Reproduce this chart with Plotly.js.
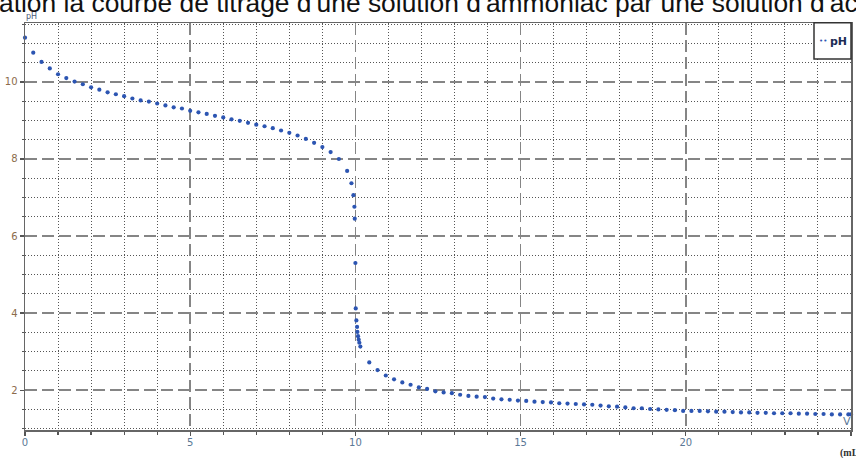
<!DOCTYPE html>
<html>
<head>
<meta charset="utf-8">
<script src="https://cdn.plot.ly/plotly-3.0.1.min.js"></script>
<style>
  html, body { margin: 0; padding: 0; background: #fff; }
  #chart { width: 856px; height: 458px; }
</style>
</head>
<body>
<div id="chart"></div>
<script>
// ---- data (volume in mL, pH) ----
const volume = [
  0, 0.25, 0.5, 0.75, 1.0, 1.25, 1.5, 1.75, 2.0, 2.25, 2.5, 2.75, 3.0, 3.25, 3.5, 3.75,
  4.0, 4.25, 4.5, 4.75, 5.0, 5.25, 5.5, 5.75, 6.0, 6.25, 6.5, 6.75, 7.0, 7.25, 7.5, 7.75,
  8.0, 8.25, 8.5, 8.75, 9.0, 9.25, 9.5, 9.75,
  9.88, 9.94, 9.97, 9.98, 10.0, 10.01, 10.03, 10.05, 10.06, 10.08, 10.10, 10.12, 10.15,
  10.42, 10.67, 10.92, 11.17, 11.42, 11.67, 11.92, 12.17, 12.42, 12.67, 12.92, 13.17,
  13.42, 13.67, 13.92, 14.17, 14.42, 14.67, 14.92, 15.17, 15.42, 15.67, 15.92, 16.17,
  16.42, 16.67, 16.92, 17.17, 17.42, 17.67, 17.92, 18.17, 18.42, 18.67, 18.92, 19.17,
  19.42, 19.67, 19.92, 20.17, 20.42, 20.67, 20.92, 21.17, 21.42, 21.67, 21.92, 22.17,
  22.42, 22.67, 22.92, 23.17, 23.42, 23.67, 23.92, 24.17, 24.42, 24.67, 24.92, 25.0
];
const pH = [
  11.15, 10.76, 10.52, 10.35, 10.20, 10.10, 10.01, 9.94, 9.86, 9.80, 9.73, 9.68, 9.63, 9.57, 9.52, 9.49,
  9.44, 9.39, 9.34, 9.31, 9.25, 9.21, 9.17, 9.12, 9.08, 9.03, 8.99, 8.94, 8.89, 8.85, 8.80, 8.74,
  8.68, 8.61, 8.52, 8.42, 8.31, 8.18, 8.00, 7.69,
  7.37, 7.06, 6.76, 6.45, 5.30, 4.12, 3.81, 3.64, 3.51, 3.40, 3.31, 3.23, 3.13,
  2.72, 2.52, 2.38, 2.28, 2.20, 2.14, 2.07, 2.03, 1.97, 1.94, 1.92, 1.88,
  1.85, 1.83, 1.82, 1.78, 1.76, 1.75, 1.73, 1.72, 1.70, 1.69, 1.68, 1.66,
  1.65, 1.64, 1.63, 1.62, 1.60, 1.58, 1.57, 1.55, 1.53, 1.53, 1.51, 1.50,
  1.49, 1.48, 1.46, 1.46, 1.46, 1.45, 1.44, 1.44, 1.43, 1.42, 1.42, 1.41,
  1.41, 1.40, 1.40, 1.40, 1.39, 1.39, 1.38, 1.38, 1.37, 1.37, 1.37, 1.37
];
const seriesName = "pH";
const titleText = "ation la courbe de titrage d'une solution d'ammoniac par une solution d'ac";
const yAxisLabel = "pH";
const xAxisLabel = "V";
const xUnitLabel = "(mL";

// ---- layout helpers (pixel -> paper) ----
const W = 856, H = 458;
const L = 25, R = 5, T = 23, B = 28;
const pw = W - L - R, ph_ = H - T - B;
const px = x => (x - L) / pw;
const py = y => (H - B - y) / ph_;

const markerBlue = "#2c55b2";

const trace = {
  x: volume, y: pH, type: "scatter", mode: "markers", name: seriesName,
  marker: { color: markerBlue, size: 4.2 },
  cliponaxis: false, showlegend: false
};

const axisCommon = {
  showline: true, linecolor: "#666", linewidth: 1.5, mirror: true,
  zeroline: false,
  gridcolor: "#858585", gridwidth: 1.5, griddash: "12px,5px",
  ticks: "outside", tickcolor: "#555", tickwidth: 1.2, ticklen: 4,
  tickfont: { family: "DejaVu Sans, Open Sans, sans-serif", size: 10 }
};

const layout = {
  width: W, height: H,
  margin: { l: L, r: R, t: T, b: B, pad: 0 },
  paper_bgcolor: "#fff", plot_bgcolor: "#fff",
  showlegend: false,
  xaxis: Object.assign({}, axisCommon, {
    range: [0, 25], tick0: 0, dtick: 5, ticklabelstandoff: -2,
    tickfont: { family: "DejaVu Sans, sans-serif", size: 10, color: "#5b7896" },
    minor: { dtick: 1, showgrid: true, gridcolor: "#555", gridwidth: 1, griddash: "1px,2px",
             ticks: "outside", ticklen: 3, tickcolor: "#555" }
  }),
  yaxis: Object.assign({}, axisCommon, {
    range: [0.965, 11.53], tick0: 0, dtick: 2,
    tickfont: { family: "DejaVu Sans, sans-serif", size: 10, color: "#8c6c4c" },
    minor: { dtick: 0.5, showgrid: true, gridcolor: "#555", gridwidth: 1, griddash: "1px,2px",
             ticks: "outside", ticklen: 2, tickcolor: "#555" }
  }),
  shapes: [
    { type: "rect", xref: "paper", yref: "paper",
      x0: px(814), x1: px(851), y0: py(59), y1: py(22.7),
      fillcolor: "#fff", line: { color: "#333", width: 1.5 }, layer: "above" }
  ],
  annotations: [
    { text: titleText, xref: "paper", yref: "paper", x: px(-3), y: py(20),
      xanchor: "left", yanchor: "bottom", showarrow: false,
      font: { family: "Liberation Sans, Arial, sans-serif", size: 26.4, color: "#111" } },
    { text: yAxisLabel, xref: "paper", yref: "paper", x: px(24), y: py(17),
      xanchor: "left", yanchor: "middle", showarrow: false,
      font: { family: "DejaVu Sans, sans-serif", size: 8, color: "#4a5a78" } },
    { text: xAxisLabel, xref: "paper", yref: "paper", x: px(847), y: py(421),
      xanchor: "center", yanchor: "middle", showarrow: false,
      font: { family: "DejaVu Sans, sans-serif", size: 11, color: "#5b7896" } },
    { text: xUnitLabel, xref: "paper", yref: "paper", x: px(838), y: py(453),
      xanchor: "left", yanchor: "middle", showarrow: false,
      font: { family: "Liberation Serif, DejaVu Serif, serif", size: 10, color: "#333", weight: "bold" } },
    { text: "••", xref: "paper", yref: "paper", x: px(823), y: py(41),
      xanchor: "center", yanchor: "middle", showarrow: false,
      font: { family: "DejaVu Sans, sans-serif", size: 7, color: markerBlue } },
    { text: "<b>" + seriesName + "</b>", xref: "paper", yref: "paper", x: px(828), y: py(41),
      xanchor: "left", yanchor: "middle", showarrow: false,
      font: { family: "DejaVu Sans, sans-serif", size: 11, color: "#1c2c55" } }
  ]
};

Plotly.newPlot("chart", [trace], layout, { displayModeBar: false, staticPlot: true });
</script>
</body>
</html>
